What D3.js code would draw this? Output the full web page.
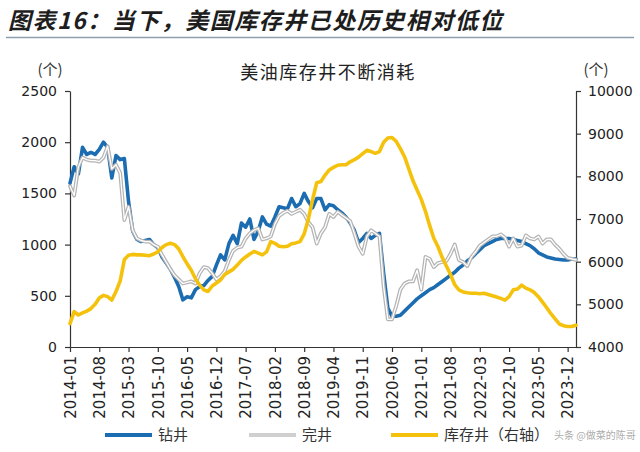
<!DOCTYPE html>
<html><head><meta charset="utf-8">
<script src="https://cdn.jsdelivr.net/npm/d3@7"></script>
<style>body{margin:0;background:#fff}svg{display:block}</style>
</head><body><svg id="c" width="640" height="452"></svg>
<script>
// ---- data ----
const startMonth = "2014-01";
const drilled = [1600,1760,1690,1950,1880,1900,1880,1930,2000,1950,1650,1870,1830,1840,1420,1130,1050,1030,1040,1050,1000,970,880,820,760,680,590,460,490,480,560,590,600,650,690,800,900,850,1010,1090,1010,1210,1170,1250,1050,1130,1270,1200,1180,1270,1370,1360,1350,1450,1370,1400,1500,1420,1360,1450,1450,1340,1390,1380,1340,1310,1270,1210,1140,1020,1060,1110,1060,1090,1110,720,380,300,300,310,350,390,430,470,500,530,560,580,610,640,670,700,730,770,800,840,870,910,950,990,1010,1030,1050,1060,1060,1060,1050,1040,1030,1010,990,960,920,900,880,870,860,855,850,850,860,860];
const completed = [1570,1480,1760,1850,1830,1820,1820,1810,1850,1960,1740,1780,1700,1240,1370,1140,1060,1040,1030,1030,1000,980,900,830,760,700,660,620,630,640,620,720,780,770,720,660,690,740,850,940,970,980,1060,1110,1140,1160,1050,1060,1080,1200,1280,1310,1330,1300,1320,1340,1300,1220,1170,1010,1110,1170,1300,1270,1320,1290,1260,1230,1110,980,910,1080,1140,1110,1080,590,270,270,400,560,620,640,640,750,560,880,860,780,820,830,840,910,1000,850,830,790,880,930,990,1020,1050,1080,1080,1100,1070,980,1060,980,990,1090,1060,1050,1080,1010,1050,1050,1000,960,910,870,860,850];
const duc = [4550,4830,4750,4800,4840,4900,5000,5150,5210,5180,5100,5300,5550,6050,6150,6170,6160,6160,6150,6140,6180,6230,6330,6400,6430,6400,6300,6120,5950,5800,5600,5450,5340,5300,5430,5500,5570,5700,5760,5820,5920,6030,6110,6180,6240,6200,6160,6230,6470,6430,6360,6350,6360,6420,6440,6470,6650,7000,7450,7850,7880,8030,8150,8210,8260,8270,8270,8340,8390,8450,8530,8610,8580,8540,8580,8800,8900,8910,8820,8650,8460,8180,7900,7680,7460,7180,6850,6550,6350,6100,5900,5700,5460,5340,5290,5270,5260,5260,5250,5260,5230,5200,5170,5140,5100,5180,5340,5360,5450,5380,5340,5280,5180,5050,4920,4780,4660,4540,4500,4480,4480,4510];
const leftTicks = [0,500,1000,1500,2000,2500];
const rightTicks = [4000,5000,6000,7000,8000,9000,10000];
const xTickLabels = ["2014-01","2014-08","2015-03","2015-10","2016-05","2016-12","2017-07","2018-02","2018-09","2019-04","2019-11","2020-06","2021-01","2021-08","2022-03","2022-10","2023-05","2023-12"];
const seriesNames = ["钻井","完井","库存井（右轴）"];

// month categories
const fmt = d3.timeFormat("%Y-%m");
const t0 = d3.timeParse("%Y-%m")(startMonth);
const months = drilled.map((_, i) => fmt(d3.timeMonth.offset(t0, i)));

const svg = d3.select("#c");
const X0 = 70, X1 = 576, YT = 91, YB = 347;
const x = d3.scalePoint().domain(months).range([X0, X1]);
const yL = d3.scaleLinear().domain([0, 2500]).range([YB, YT]);
const yR = d3.scaleLinear().domain([4000, 10000]).range([YB, YT]);

const BLUE = "#1b6cb0", GRAY = "#b4b4b4", YEL = "#f4c20d";
const cjk = "'Noto Sans CJK SC', sans-serif";
const num = "'DejaVu Sans', sans-serif";

// heading
svg.append("text").attr("x", 8).attr("y", 29)
  .attr("font-family", cjk).attr("font-size", 23).attr("font-weight", "bold")
  .attr("font-style", "italic").attr("letter-spacing", 1.5).attr("fill", "#1e1e1e")
  .text("图表16：当下，美国库存井已处历史相对低位");
svg.append("line").attr("x1", 6).attr("x2", 634).attr("y1", 37.5).attr("y2", 37.5)
  .attr("stroke", "#8d9fae").attr("stroke-width", 1.5);

// chart title + units
svg.append("text").attr("x", 328).attr("y", 79).attr("text-anchor", "middle")
  .attr("font-family", cjk).attr("font-size", 18).attr("letter-spacing", 1.5).attr("fill", "#222")
  .text("美油库存井不断消耗");
svg.append("text").attr("x", 50).attr("y", 75).attr("text-anchor", "middle")
  .attr("font-family", cjk).attr("font-size", 15).attr("fill", "#333").text("(个)");
svg.append("text").attr("x", 596).attr("y", 75).attr("text-anchor", "middle")
  .attr("font-family", cjk).attr("font-size", 15).attr("fill", "#333").text("(个)");

// axes
const f = d3.format("d");
const axL = svg.append("g").attr("transform", `translate(${X0},0)`)
  .call(d3.axisLeft(yL).tickValues(leftTicks).tickFormat(f).tickSize(5).tickSizeOuter(0).tickPadding(8));
const axR = svg.append("g").attr("transform", `translate(${X1},0)`)
  .call(d3.axisRight(yR).tickValues(rightTicks).tickFormat(f).tickSize(5).tickSizeOuter(0).tickPadding(7));
const axB = svg.append("g").attr("transform", `translate(0,${YB})`)
  .call(d3.axisBottom(x).tickValues(xTickLabels).tickSize(5).tickSizeOuter(0));
[axL, axR, axB].forEach(g => {
  g.select(".domain").attr("stroke", "#333").attr("stroke-width", 1.2);
  g.selectAll(".tick line").attr("stroke", "#333").attr("stroke-width", 1.2);
  g.selectAll("text").attr("font-family", num).attr("font-size", 14).attr("fill", "#222");
});
axB.selectAll("text").attr("font-size", 15)
  .attr("transform", "rotate(-90)").attr("text-anchor", "end")
  .attr("x", -9).attr("y", 0).attr("dy", "0.35em");

// lines
const lineL = d3.line().x((d, i) => x(months[i])).y(d => yL(d));
const lineR = d3.line().x((d, i) => x(months[i])).y(d => yR(d));
const plot = svg.append("g").attr("fill", "none").attr("stroke-linejoin", "round").attr("stroke-linecap", "round");
plot.append("path").attr("d", lineL(drilled)).attr("stroke", BLUE).attr("stroke-width", 3.6);
plot.append("path").attr("d", lineL(completed)).attr("stroke", GRAY).attr("stroke-width", 3.8);
plot.append("path").attr("d", lineL(completed)).attr("stroke", "#fff").attr("stroke-width", 1.3);
plot.append("path").attr("d", lineR(duc)).attr("stroke", YEL).attr("stroke-width", 3.6);

// legend
const leg = [
  {x: 105, color: BLUE, name: seriesNames[0], gray: false},
  {x: 249, color: GRAY, name: seriesNames[1], gray: true},
  {x: 391, color: YEL, name: seriesNames[2], gray: false}
];
const LY = 435;
leg.forEach(l => {
  svg.append("line").attr("x1", l.x).attr("x2", l.x + 47).attr("y1", LY).attr("y2", LY)
    .attr("stroke", l.gray ? "#cfcfcf" : l.color).attr("stroke-width", 4);
  svg.append("text").attr("x", l.x + 53).attr("y", LY + 5)
    .attr("font-family", cjk).attr("font-size", 15).attr("fill", "#333").text(l.name);
});

// watermark
svg.append("text").attr("x", 554).attr("y", 439)
  .attr("font-family", cjk).attr("font-size", 10)
  .attr("fill", "#9a9a9a").attr("fill-opacity", 0.85).text("头条 @做菜的陈哥");
</script></body></html>
